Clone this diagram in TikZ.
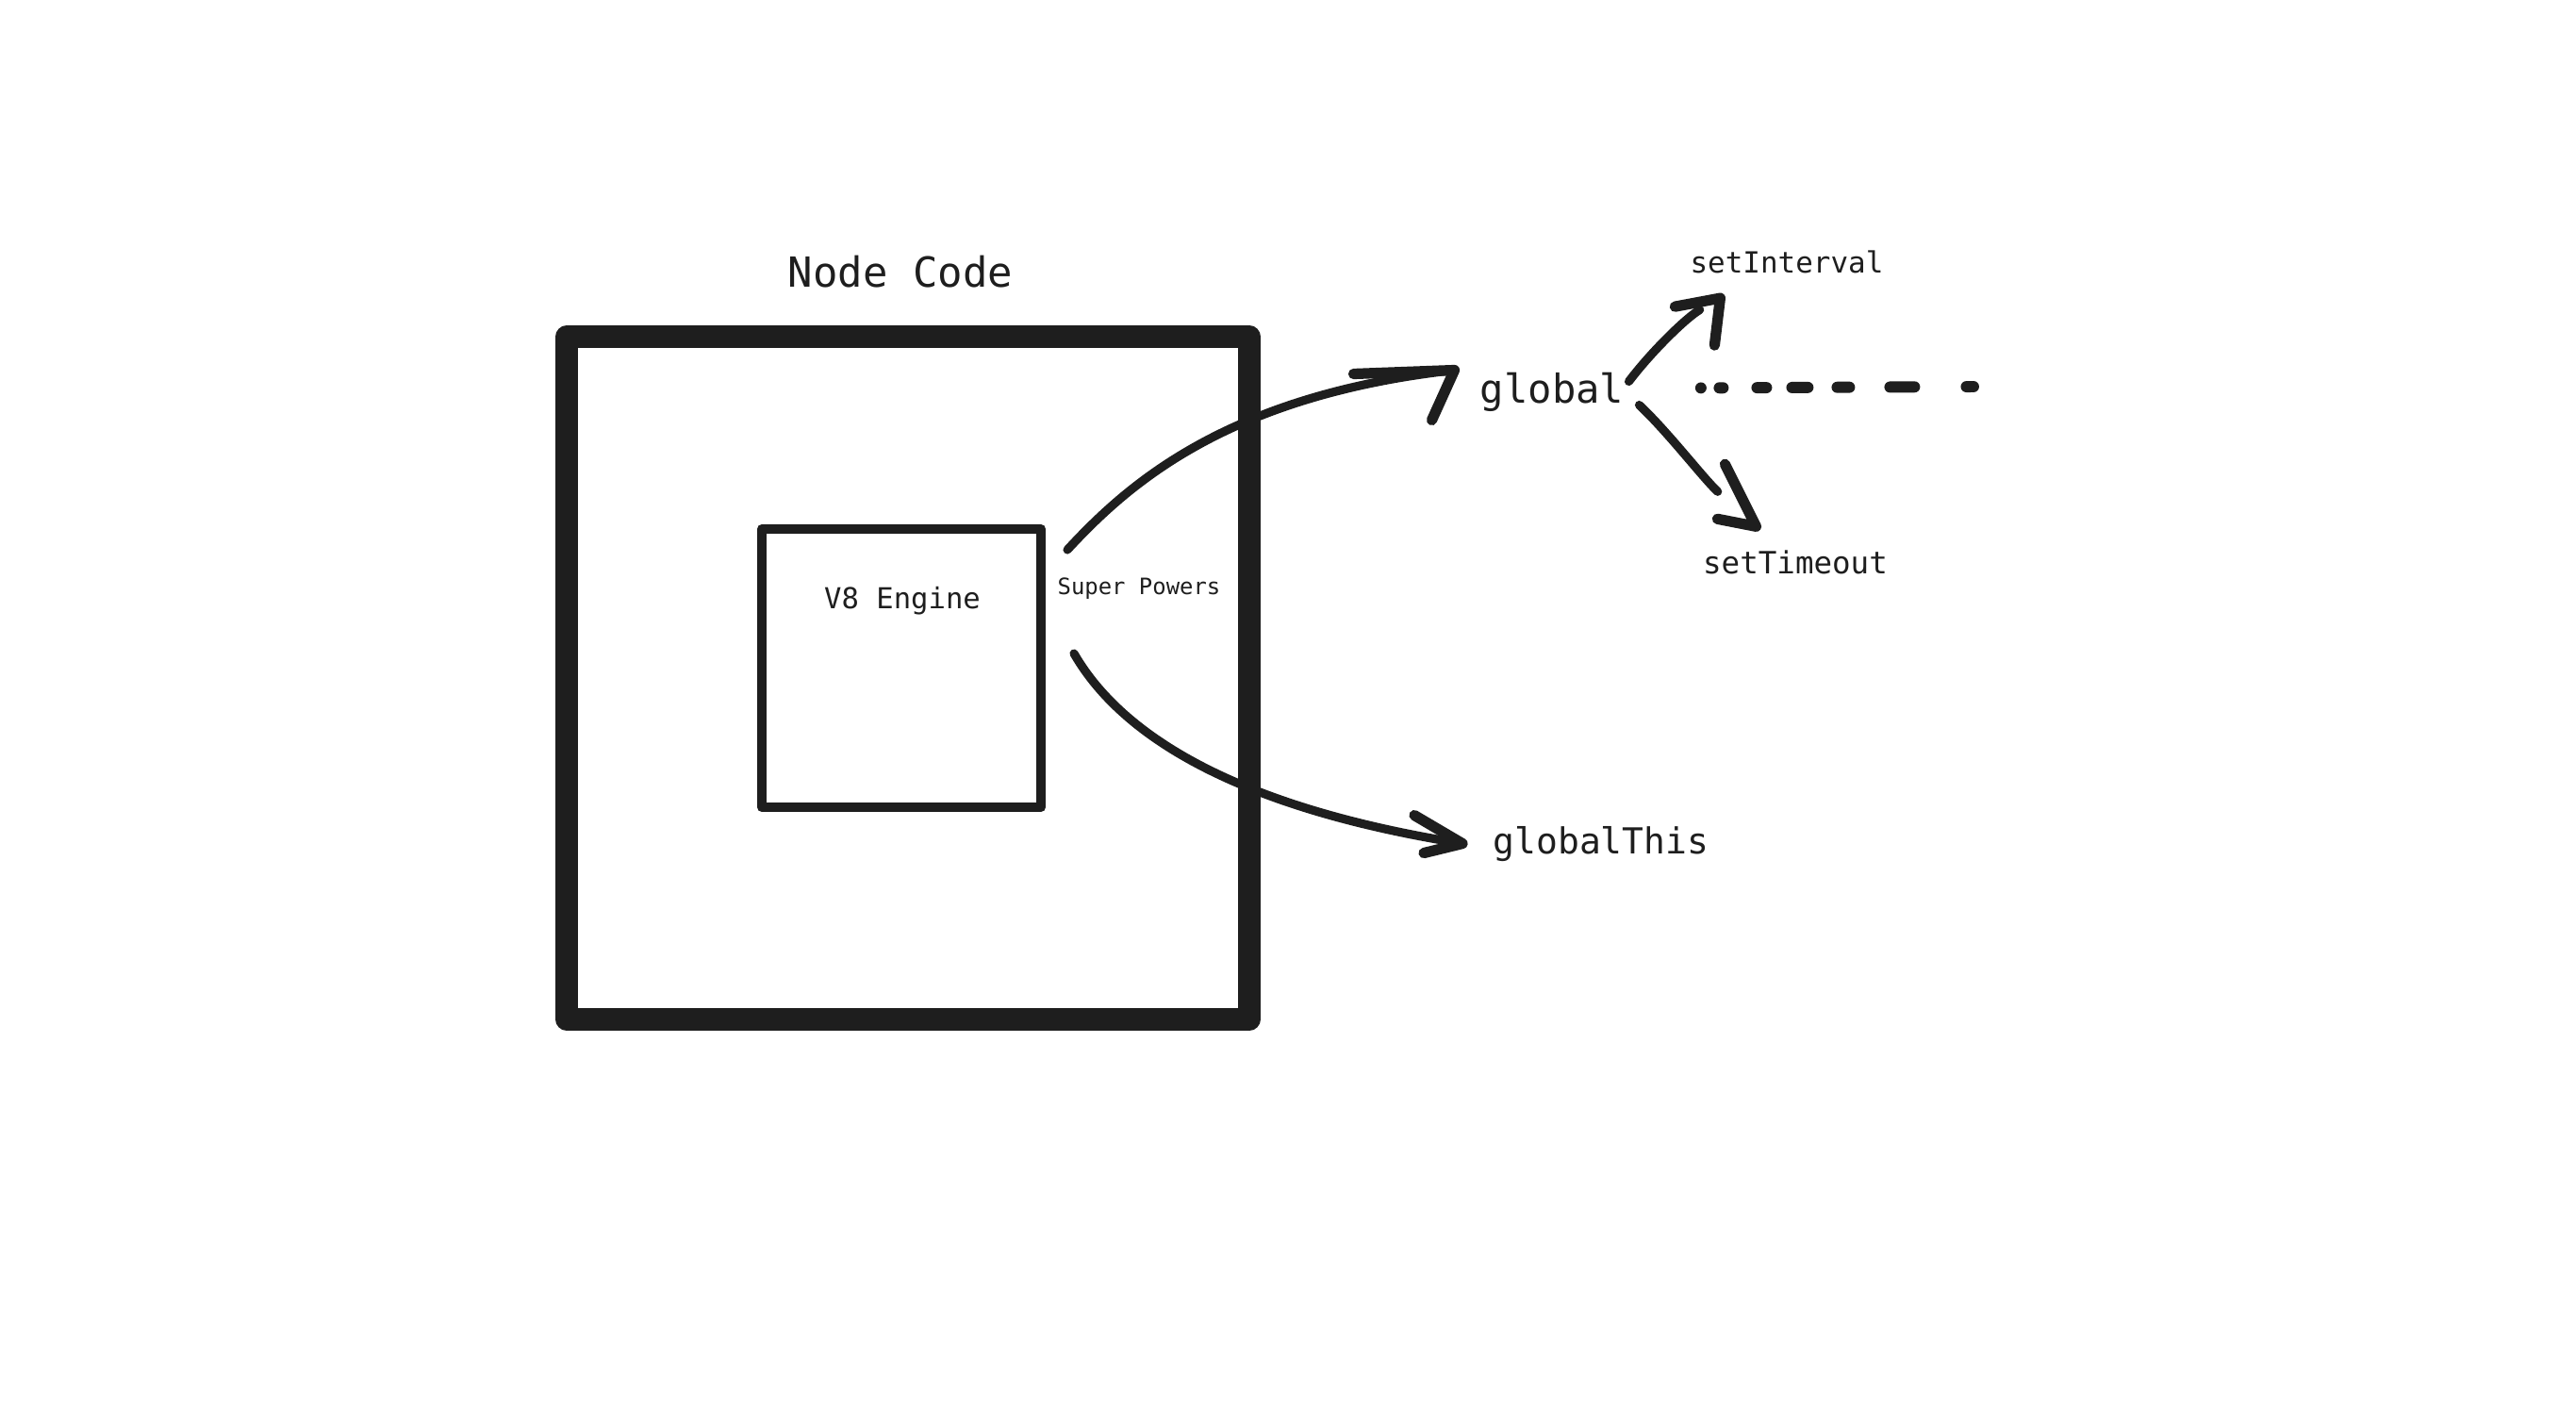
\documentclass[tikz,border=0pt]{standalone}
\usepackage{fontspec}
\usepackage{tikz}
\newfontfamily\codefont{DejaVu Sans Mono}
\newcommand{\fsz}[1]{\fontsize{#1}{#1}\selectfont}
\definecolor{ink}{HTML}{1E1E1E}

\begin{document}
\begin{tikzpicture}[
    txt/.style={font={\codefont\fsz{#1}}, text=ink, inner sep=0pt, anchor=base},
    box/.style={draw=ink, line join=round, inner sep=0pt},
    pen/.style={draw=ink, line width=2.6pt, line cap=round, line join=round},
    barb/.style={draw=ink, line width=3.2pt, line cap=round, line join=round},
    trail/.style={draw=ink, line width=3.4pt, line cap=round,
      dash pattern=on 0.01pt off 5.55pt on 1.14pt off 10.24pt on 2.85pt off 7.68pt
        on 4.84pt off 8.82pt on 3.70pt off 12.23pt on 7.40pt off 15.65pt on 2.28pt off 50pt}
  ]
  \useasboundingbox (0,0) rectangle (27.32,-15.09);

  \node[box, line width=6.8pt, minimum width=7.24cm, minimum height=7.235cm] (runtime) at (9.63,-7.19) {};
  \node[box, line width=2.85pt, minimum width=2.96cm, minimum height=2.95cm] (v8) at (9.56,-7.085) {};

  \node[txt=12.5] (title) at (9.55,-3.04) {Node Code};
  \node[txt=8.7] (engine) at (9.57,-6.45) {V8 Engine};
  \node[txt=6.8] (powers) at (12.08,-6.30) {Super Powers};
  \node[txt=12] (global) at (16.46,-4.27) {global};
  \node[txt=8.8] (interval) at (18.95,-2.89) {setInterval};
  \node[txt=9.25] (timeout) at (19.04,-6.08) {setTimeout};
  \node[txt=10.8] (globalthis) at (16.98,-9.05) {globalThis};

  \coordinate (tipglobal) at ([xshift=-2.66mm,yshift=2.29mm]global.west);
  \coordinate (tipthis) at ([xshift=-3.2mm]globalthis.west);
  \coordinate (tipinterval) at ([xshift=3.25mm,yshift=-2.6mm]interval.south west);
  \coordinate (tiptimeout) at ([xshift=5.7mm,yshift=2.43mm]timeout.north west);
  \coordinate (trailend) at (20.93,-4.10);

  \draw[pen] ([xshift=2.3mm,yshift=-2.7mm]v8.north east) .. controls +(0.63,0.68) and +(-2.43,-0.27) .. (tipglobal);
  \draw[barb] ([shift={(-1.07,-0.04)}]tipglobal) -- (tipglobal) -- ++(-0.24,-0.53);

  \draw[pen] ([xshift=3mm,yshift=1.55mm]v8.east) .. controls +(0.56,-0.97) and +(-2.2,0.35) .. (tipthis);
  \draw[barb] ([shift={(-0.51,0.30)}]tipthis) -- (tipthis) -- ++(-0.41,-0.10);

  \draw[pen, shorten >=2.5mm] ([xshift=0.46mm,yshift=1.09mm]global.east) .. controls +(0.25,0.33) and +(-0.35,-0.2) .. (tipinterval);
  \draw[barb] ([shift={(-0.48,-0.09)}]tipinterval) -- (tipinterval) -- ++(-0.06,-0.50);

  \draw[pen, shorten >=5.5mm] ([xshift=1.56mm,yshift=-1.41mm]global.east) .. controls +(0.3,-0.28) and +(-0.55,0.5) .. (tiptimeout);
  \draw[barb] ([shift={(-0.33,0.66)}]tiptimeout) -- (tiptimeout) -- ++(-0.41,0.08);

  \draw[trail] ([xshift=8.1mm,yshift=0.4mm]global.east) -- (trailend);
\end{tikzpicture}
\end{document}
